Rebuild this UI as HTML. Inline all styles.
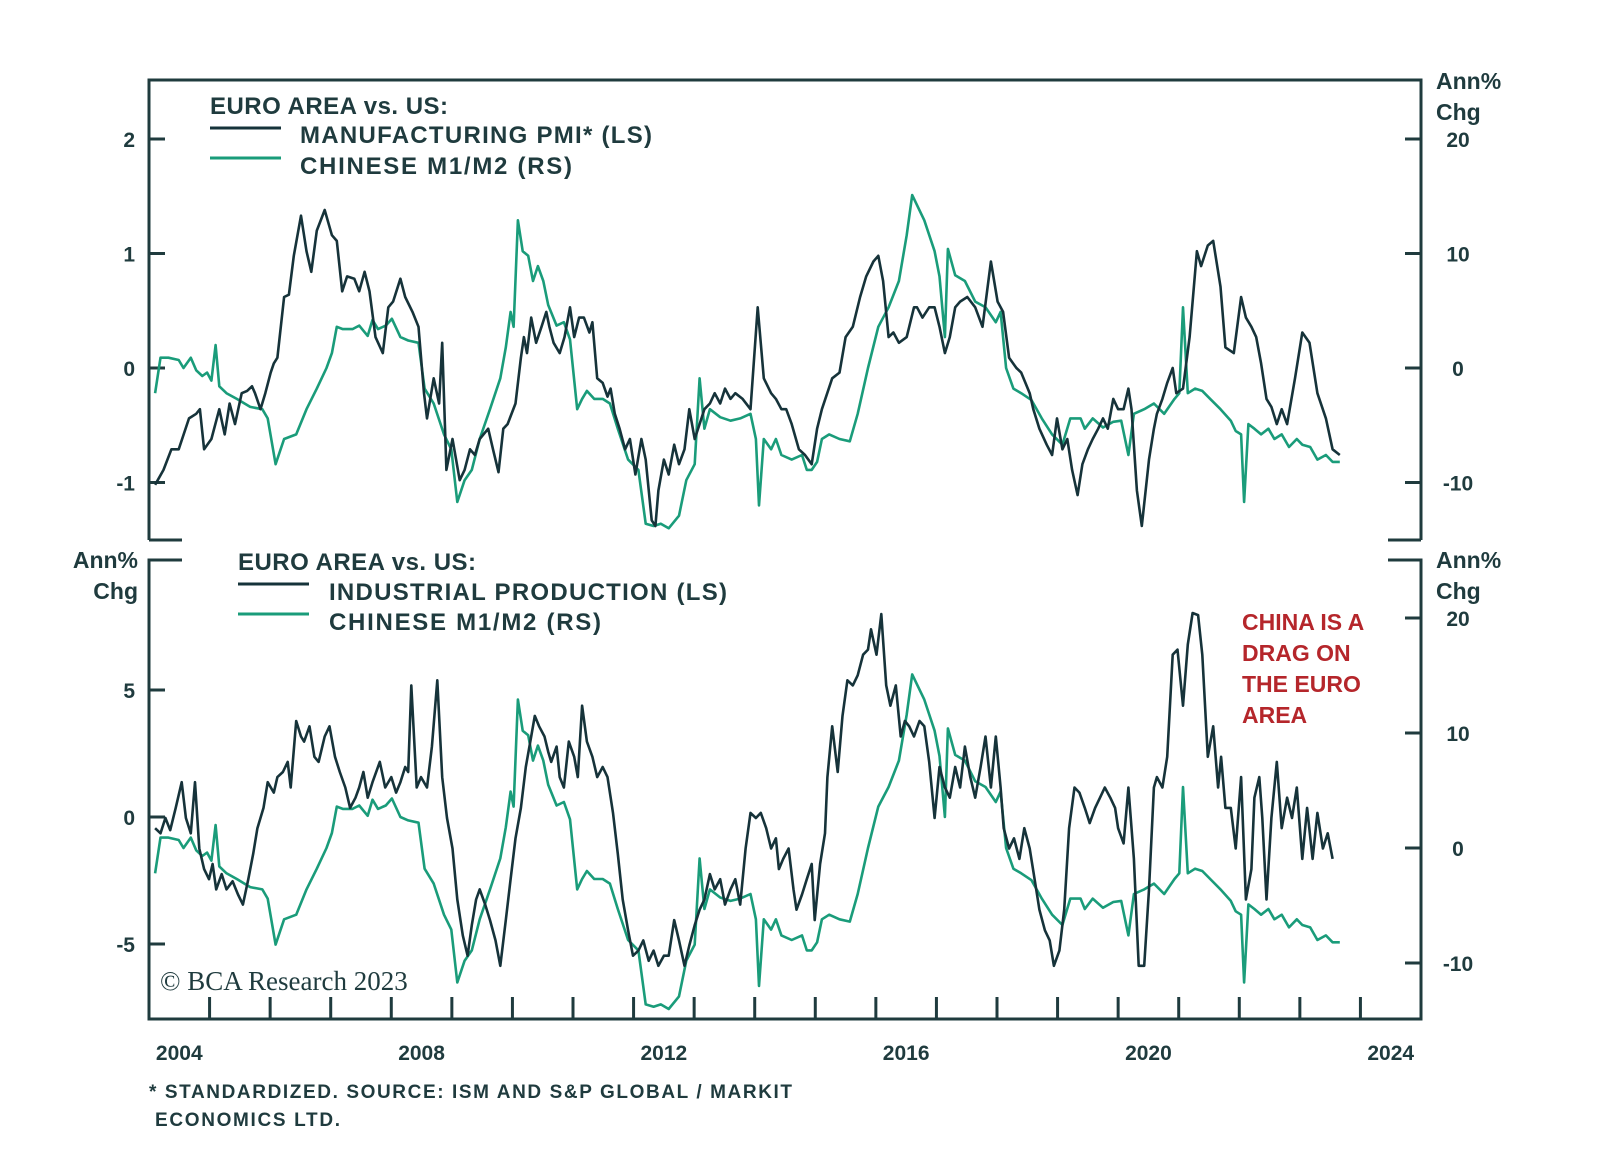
<!DOCTYPE html>
<html><head><meta charset="utf-8"><style>
html,body{margin:0;padding:0;background:#fff;}
svg{display:block;font-family:"Liberation Sans",sans-serif;}
.ax{stroke:#1f3b3e;stroke-width:3;fill:none;}
.lbl{fill:#1f3b3e;font-weight:bold;font-size:21px;}
.leg{fill:#1f3b3e;font-size:24px;font-weight:bold;}
</style></head><body>
<svg id="chart" width="1600" height="1163" viewBox="0 0 1600 1163" xmlns="http://www.w3.org/2000/svg">
<g id="frame"></g>
<g id="series"></g>
<g>
<text class="leg" x="210" y="114" textLength="238">EURO AREA vs. US:</text>
<line x1="210" y1="128" x2="281" y2="128" stroke="#16333a" stroke-width="3"/>
<text class="leg" x="300" y="143" textLength="352">MANUFACTURING PMI* (LS)</text>
<line x1="210" y1="158" x2="281" y2="158" stroke="#1a9c7a" stroke-width="3"/>
<text class="leg" x="300" y="174" textLength="272">CHINESE M1/M2 (RS)</text>
</g>
<g>
<text class="leg" x="238" y="570" textLength="238">EURO AREA vs. US:</text>
<line x1="238" y1="584" x2="309" y2="584" stroke="#16333a" stroke-width="3"/>
<text class="leg" x="329" y="600" textLength="398">INDUSTRIAL PRODUCTION (LS)</text>
<line x1="238" y1="614" x2="309" y2="614" stroke="#1a9c7a" stroke-width="3"/>
<text class="leg" x="329" y="630" textLength="272">CHINESE M1/M2 (RS)</text>
</g>
<g class="lbl" style="font-size:23px;font-weight:bold">
<text class="lbl" x="1436" y="89" style="font-size:23px">Ann%</text>
<text class="lbl" x="1436" y="120" style="font-size:23px">Chg</text>
<text class="lbl" x="1436" y="568" style="font-size:23px">Ann%</text>
<text class="lbl" x="1436" y="599" style="font-size:23px">Chg</text>
<text class="lbl" x="138" y="568" text-anchor="end" style="font-size:23px">Ann%</text>
<text class="lbl" x="138" y="599" text-anchor="end" style="font-size:23px">Chg</text>
</g>
<g style="fill:#b5262b;font-size:23px;font-weight:bold">
<text x="1242" y="630">CHINA IS A</text>
<text x="1242" y="661">DRAG ON</text>
<text x="1242" y="692">THE EURO</text>
<text x="1242" y="723">AREA</text>
</g>
<text x="160" y="990" style="font-family:'Liberation Serif',serif;font-size:27px;fill:#1f3b3e">© BCA Research 2023</text>
<text x="149" y="1098" textLength="643" style="font-size:19px;font-weight:bold;fill:#1f3b3e">* STANDARDIZED. SOURCE: ISM AND S&amp;P GLOBAL / MARKIT</text>
<text x="155" y="1126" textLength="185" style="font-size:19px;font-weight:bold;fill:#1f3b3e">ECONOMICS LTD.</text>
</svg>
<script>
const xYears=[2004,2008,2012,2016,2020,2024];
const topLeftTicks=[2,1,0,-1];
const topRightTicks=[20,10,0,-10];
const botLeftTicks=[5,0,-5];
const botRightTicks=[20,10,0,-10];

const m12Dates=[2004.10,2004.19,2004.32,2004.49,2004.57,2004.69,2004.78,2004.88,2004.96,2005.03,2005.10,2005.16,2005.28,2005.45,2005.67,2005.87,2005.96,2006.09,2006.23,2006.43,2006.60,2006.77,2006.93,2007.02,2007.10,2007.20,2007.36,2007.47,2007.61,2007.69,2007.78,2007.91,2008.01,2008.15,2008.28,2008.45,2008.55,2008.70,2008.87,2008.99,2009.09,2009.21,2009.33,2009.46,2009.63,2009.80,2009.89,2009.97,2010.02,2010.09,2010.17,2010.26,2010.34,2010.42,2010.51,2010.59,2010.73,2010.85,2010.95,2011.07,2011.15,2011.23,2011.35,2011.49,2011.61,2011.74,2011.91,2012.08,2012.20,2012.33,2012.45,2012.58,2012.75,2012.87,2013.01,2013.09,2013.17,2013.26,2013.43,2013.60,2013.76,2013.93,2014.02,2014.07,2014.15,2014.27,2014.35,2014.44,2014.61,2014.78,2014.86,2014.94,2015.03,2015.11,2015.23,2015.40,2015.57,2015.70,2015.87,2016.04,2016.21,2016.38,2016.51,2016.60,2016.80,2016.97,2017.05,2017.14,2017.19,2017.31,2017.47,2017.64,2017.81,2017.98,2018.06,2018.15,2018.27,2018.40,2018.57,2018.74,2018.91,2019.08,2019.21,2019.38,2019.45,2019.58,2019.75,2019.92,2020.05,2020.17,2020.26,2020.43,2020.59,2020.76,2020.93,2021.01,2021.07,2021.15,2021.27,2021.39,2021.52,2021.69,2021.86,2021.94,2022.03,2022.08,2022.15,2022.25,2022.36,2022.48,2022.58,2022.70,2022.82,2022.95,2023.04,2023.17,2023.29,2023.43,2023.54,2023.66];
const m12Values=[-2.2,0.9,0.9,0.7,0,0.9,-0.2,-0.7,-0.4,-1.1,2.0,-1.6,-2.2,-2.7,-3.4,-3.6,-4.4,-8.4,-6.2,-5.8,-3.6,-1.8,0,1.3,3.6,3.4,3.4,3.7,2.8,4.2,3.4,3.7,4.3,2.7,2.4,2.2,-1.8,-3.1,-5.8,-7.1,-11.7,-9.8,-8.9,-6.2,-3.6,-0.9,1.8,4.9,3.6,12.9,10.2,9.8,7.6,8.9,7.6,5.5,3.7,4.0,2.5,-3.6,-2.7,-2.0,-2.7,-2.7,-3.1,-5.3,-8.0,-8.9,-13.6,-13.8,-13.6,-14.0,-12.9,-9.8,-8.4,-0.9,-5.3,-3.6,-4.3,-4.6,-4.4,-4.0,-6.2,-12.0,-6.2,-7.1,-6.2,-7.6,-8.0,-7.6,-8.9,-8.9,-8.2,-6.2,-5.8,-6.2,-6.4,-4.0,0,3.6,5.3,7.6,11.6,15.1,12.9,10.2,8.0,2.7,10.4,8.1,7.6,5.8,5.3,4.0,4.9,0,-1.8,-2.2,-2.8,-4.4,-5.8,-6.7,-4.4,-4.4,-5.3,-4.4,-5.2,-4.7,-4.6,-7.6,-4.0,-3.6,-3.1,-4.0,-2.7,-2.2,5.3,-2.2,-1.8,-2.0,-2.7,-3.6,-4.6,-5.5,-5.8,-11.7,-4.9,-5.3,-5.8,-5.3,-6.2,-5.8,-6.9,-6.2,-6.7,-6.9,-8.0,-7.6,-8.2,-8.2];

const pmiDates=[2004.10,2004.24,2004.37,2004.49,2004.66,2004.78,2004.84,2004.91,2005.03,2005.16,2005.25,2005.33,2005.42,2005.53,2005.62,2005.70,2005.75,2005.84,2005.92,2006.01,2006.06,2006.12,2006.23,2006.31,2006.39,2006.51,2006.60,2006.68,2006.77,2006.90,2007.02,2007.10,2007.19,2007.27,2007.39,2007.47,2007.56,2007.64,2007.74,2007.86,2007.95,2008.03,2008.15,2008.23,2008.35,2008.45,2008.54,2008.59,2008.70,2008.79,2008.84,2008.91,2009.01,2009.13,2009.21,2009.30,2009.38,2009.46,2009.60,2009.68,2009.77,2009.85,2009.92,2010.05,2010.14,2010.19,2010.24,2010.31,2010.39,2010.48,2010.56,2010.61,2010.68,2010.78,2010.86,2010.95,2011.02,2011.10,2011.18,2011.27,2011.32,2011.40,2011.49,2011.57,2011.62,2011.69,2011.77,2011.86,2011.94,2012.03,2012.13,2012.20,2012.30,2012.36,2012.41,2012.50,2012.58,2012.67,2012.75,2012.84,2012.92,2013.01,2013.09,2013.17,2013.26,2013.34,2013.43,2013.51,2013.60,2013.68,2013.80,2013.93,2014.05,2014.15,2014.27,2014.35,2014.44,2014.52,2014.61,2014.73,2014.83,2014.94,2015.03,2015.11,2015.28,2015.40,2015.50,2015.62,2015.74,2015.84,2015.96,2016.04,2016.12,2016.21,2016.29,2016.38,2016.51,2016.63,2016.68,2016.77,2016.88,2016.97,2017.05,2017.14,2017.22,2017.31,2017.39,2017.51,2017.64,2017.76,2017.90,2018.01,2018.10,2018.20,2018.32,2018.40,2018.54,2018.60,2018.70,2018.82,2018.91,2018.99,2019.08,2019.16,2019.24,2019.33,2019.41,2019.50,2019.58,2019.67,2019.75,2019.83,2019.92,2020.00,2020.09,2020.17,2020.22,2020.31,2020.39,2020.51,2020.59,2020.64,2020.73,2020.81,2020.90,2020.96,2021.07,2021.18,2021.30,2021.37,2021.48,2021.57,2021.69,2021.77,2021.91,2022.03,2022.11,2022.20,2022.28,2022.36,2022.45,2022.53,2022.62,2022.70,2022.79,2022.92,2023.04,2023.16,2023.29,2023.43,2023.54,2023.66];
const pmiValues=[-1.02,-0.89,-0.71,-0.71,-0.44,-0.40,-0.36,-0.71,-0.62,-0.36,-0.58,-0.31,-0.49,-0.22,-0.20,-0.16,-0.22,-0.36,-0.22,-0.04,0.04,0.09,0.62,0.64,0.98,1.33,1.02,0.84,1.20,1.38,1.16,1.11,0.67,0.80,0.78,0.67,0.84,0.67,0.27,0.13,0.53,0.58,0.78,0.62,0.49,0.36,-0.22,-0.44,-0.09,-0.31,0.22,-0.89,-0.62,-0.98,-0.89,-0.71,-0.76,-0.62,-0.53,-0.71,-0.91,-0.53,-0.49,-0.31,0.09,0.27,0.13,0.44,0.22,0.36,0.49,0.36,0.22,0.13,0.27,0.53,0.27,0.44,0.44,0.31,0.40,-0.09,-0.13,-0.25,-0.18,-0.40,-0.53,-0.71,-0.62,-0.93,-0.62,-0.80,-1.33,-1.38,-1.07,-0.80,-0.93,-0.67,-0.84,-0.71,-0.36,-0.62,-0.49,-0.36,-0.31,-0.22,-0.31,-0.18,-0.27,-0.22,-0.27,-0.36,0.53,-0.09,-0.22,-0.27,-0.36,-0.36,-0.49,-0.71,-0.76,-0.84,-0.53,-0.36,-0.09,-0.04,0.27,0.36,0.62,0.80,0.93,0.98,0.76,0.27,0.31,0.22,0.27,0.53,0.53,0.44,0.53,0.53,0.36,0.13,0.27,0.53,0.58,0.62,0.53,0.36,0.93,0.58,0.49,0.09,0,-0.04,-0.22,-0.36,-0.53,-0.67,-0.76,-0.44,-0.71,-0.62,-0.89,-1.11,-0.84,-0.71,-0.62,-0.53,-0.44,-0.53,-0.27,-0.36,-0.36,-0.18,-0.36,-1.07,-1.38,-0.80,-0.53,-0.40,-0.27,-0.13,0,-0.22,-0.18,0.27,1.02,0.89,1.07,1.11,0.71,0.18,0.13,0.62,0.44,0.36,0.27,0.04,-0.27,-0.34,-0.49,-0.36,-0.49,-0.09,0.31,0.22,-0.22,-0.44,-0.71,-0.76];

const ipDates=[2004.10,2004.19,2004.27,2004.35,2004.44,2004.54,2004.61,2004.69,2004.76,2004.83,2004.91,2004.99,2005.05,2005.11,2005.20,2005.28,2005.38,2005.47,2005.55,2005.64,2005.72,2005.79,2005.89,2005.96,2006.06,2006.12,2006.21,2006.29,2006.34,2006.43,2006.51,2006.56,2006.65,2006.73,2006.80,2006.90,2006.98,2007.07,2007.15,2007.24,2007.32,2007.41,2007.47,2007.54,2007.61,2007.69,2007.81,2007.90,2008.00,2008.08,2008.15,2008.23,2008.28,2008.33,2008.42,2008.49,2008.59,2008.67,2008.76,2008.84,2008.92,2009.01,2009.09,2009.18,2009.26,2009.33,2009.40,2009.46,2009.55,2009.63,2009.72,2009.80,2009.89,2009.97,2010.05,2010.14,2010.22,2010.31,2010.37,2010.44,2010.53,2010.59,2010.64,2010.73,2010.78,2010.85,2010.93,2011.02,2011.08,2011.15,2011.23,2011.32,2011.40,2011.49,2011.57,2011.66,2011.74,2011.82,2011.91,2011.99,2012.08,2012.16,2012.25,2012.33,2012.41,2012.50,2012.58,2012.67,2012.75,2012.84,2012.92,2013.01,2013.09,2013.17,2013.26,2013.34,2013.43,2013.51,2013.60,2013.68,2013.76,2013.85,2013.93,2014.02,2014.10,2014.19,2014.27,2014.35,2014.40,2014.47,2014.56,2014.64,2014.69,2014.78,2014.86,2014.94,2014.99,2015.08,2015.16,2015.20,2015.28,2015.37,2015.45,2015.53,2015.62,2015.70,2015.79,2015.87,2015.92,2016.01,2016.09,2016.17,2016.24,2016.33,2016.41,2016.48,2016.55,2016.63,2016.72,2016.80,2016.88,2016.97,2017.05,2017.14,2017.22,2017.31,2017.39,2017.47,2017.56,2017.64,2017.73,2017.81,2017.90,2017.98,2018.06,2018.11,2018.20,2018.28,2018.37,2018.45,2018.54,2018.62,2018.70,2018.79,2018.87,2018.94,2019.03,2019.11,2019.19,2019.28,2019.36,2019.45,2019.53,2019.62,2019.70,2019.78,2019.87,2019.95,2020.00,2020.09,2020.17,2020.26,2020.34,2020.43,2020.51,2020.59,2020.64,2020.73,2020.81,2020.90,2020.98,2021.07,2021.15,2021.23,2021.32,2021.39,2021.48,2021.57,2021.65,2021.70,2021.77,2021.86,2021.94,2022.03,2022.11,2022.20,2022.25,2022.33,2022.38,2022.45,2022.53,2022.62,2022.70,2022.79,2022.87,2022.95,2023.04,2023.12,2023.21,2023.29,2023.38,2023.46,2023.54];
const ipValues=[-0.44,-0.64,-0.04,-0.52,0.36,1.37,-0.04,-0.64,1.37,-1.24,-2.05,-2.45,-1.85,-2.85,-2.25,-2.85,-2.53,-3.05,-3.45,-2.45,-1.45,-0.44,0.36,1.37,0.96,1.57,1.77,2.17,1.16,3.78,3.17,2.97,3.57,2.37,2.17,3.17,3.57,2.37,1.77,1.16,0.36,0.76,1.16,1.77,0.76,1.37,2.17,1.16,1.57,0.96,1.37,1.97,1.77,5.18,1.16,1.57,1.16,2.77,5.38,1.57,-0.04,-1.24,-3.25,-4.66,-5.46,-4.26,-3.25,-2.85,-3.45,-4.06,-4.86,-5.86,-4.06,-2.45,-0.84,0.36,1.97,3.17,3.98,3.57,3.17,2.57,2.17,2.77,1.57,1.16,2.97,2.37,1.57,4.38,2.97,2.37,1.57,1.97,1.57,0.16,-1.45,-3.25,-4.46,-5.46,-5.26,-4.86,-5.66,-5.26,-5.86,-5.46,-5.46,-4.06,-4.86,-5.86,-5.06,-4.26,-3.65,-3.25,-2.25,-2.85,-2.45,-3.45,-2.85,-2.45,-3.45,-1.24,0.16,-0.04,0.16,-0.44,-1.24,-0.84,-2.05,-1.65,-1.24,-2.85,-3.65,-3.05,-2.45,-1.85,-4.06,-1.85,-0.64,1.57,3.57,1.77,3.98,5.38,5.18,5.58,6.39,6.59,7.39,6.39,7.99,5.18,4.38,5.18,3.17,3.78,3.57,3.17,3.78,3.57,2.17,-0.04,1.97,1.16,0.76,1.97,1.16,2.77,1.57,0.76,1.97,3.17,1.16,3.17,1.16,-0.44,-1.24,-0.84,-1.65,-0.44,-1.24,-2.45,-3.65,-4.46,-4.86,-5.86,-5.26,-3.65,-0.44,1.16,0.96,0.36,-0.24,0.36,0.76,1.16,0.76,0.36,-0.44,-1.04,1.16,-1.65,-5.86,-5.86,-2.85,1.16,1.57,1.16,2.37,6.39,6.59,4.38,6.79,8.03,7.95,6.39,2.37,3.57,1.16,2.37,0.36,0.36,-1.24,1.57,-3.25,-2.05,0.76,1.57,-0.04,-3.25,-0.04,2.17,-0.44,0.76,-0.04,1.16,-1.65,0.36,-1.65,0.16,-1.24,-0.64,-1.65];

const NS='http://www.w3.org/2000/svg';
const L=149,R=1421;
const xs=y=>L+(y-2004)*(R-L)/21;
const topL=v=>368-v*114.5, topR=v=>368-v*11.45;
const botL=v=>817-v*25.4, botR=v=>848-v*11.5;
function mk(tag,attrs,parent){const e=document.createElementNS(NS,tag);for(const k in attrs)e.setAttribute(k,attrs[k]);parent.appendChild(e);return e;}
const fr=document.getElementById('frame'), sr=document.getElementById('series');
let p;
p=mk('path',{d:`M${L},540 L${L},80 L${R},80 L${R},540`,class:'ax'},fr);


p=mk('path',{d:`M${L},540 L${L+33},540 M${R-33},540 L${R},540`,class:'ax'},fr);


p=mk('path',{d:`M${L+33},560 L${L},560 L${L},1019 L${R},1019 L${R},560 L${R-33},560`,class:'ax'},fr);


function ytick(y,side,label,name){
  const x1=side==='l'?L:R, x2=side==='l'?L+16:R-16;
  const t=mk('line',{x1:x1,y1:y,x2:x2,y2:y,class:'ax'},fr);
  
  
  const tx=mk('text',{x:side==='l'?135:1458,y:y+8,class:'lbl','text-anchor':side==='l'?'end':'middle'},fr);
  tx.textContent=label;
  
  
}
topLeftTicks.forEach(v=>ytick(topL(v),'l',String(v),'top-left-y'));
topRightTicks.forEach(v=>ytick(topR(v),'r',String(v),'top-right-y'));
botLeftTicks.forEach(v=>ytick(botL(v),'l',String(v),'bottom-left-y'));
botRightTicks.forEach(v=>ytick(botR(v),'r',String(v),'bottom-right-y'));
for(let yr=2005;yr<=2024;yr++){
  const t=mk('line',{x1:xs(yr),y1:1019,x2:xs(yr),y2:997,class:'ax'},fr);
  
  
}
xYears.forEach(yr=>{
  const t=mk('text',{x:xs(yr+0.5),y:1060,class:'lbl','text-anchor':'middle'},fr);
  t.textContent=String(yr);
  
  
});
function line(dates,vals,fy,color,name){
  const d=dates.map((t,i)=>(i?'L':'M')+xs(t).toFixed(1)+','+fy(vals[i]).toFixed(1)).join(' ');
  const e=mk('path',{d:d,fill:'none',stroke:color,'stroke-width':2.6,'stroke-linejoin':'round'},sr);
  
  
}
line(m12Dates,m12Values,topR,'#1a9c7a','top-m1m2-line');
line(pmiDates,pmiValues,topL,'#16333a','pmi-line');
line(m12Dates,m12Values,botR,'#1a9c7a','bottom-m1m2-line');
line(ipDates,ipValues,botL,'#16333a','ip-line');
</script>
</body></html>
